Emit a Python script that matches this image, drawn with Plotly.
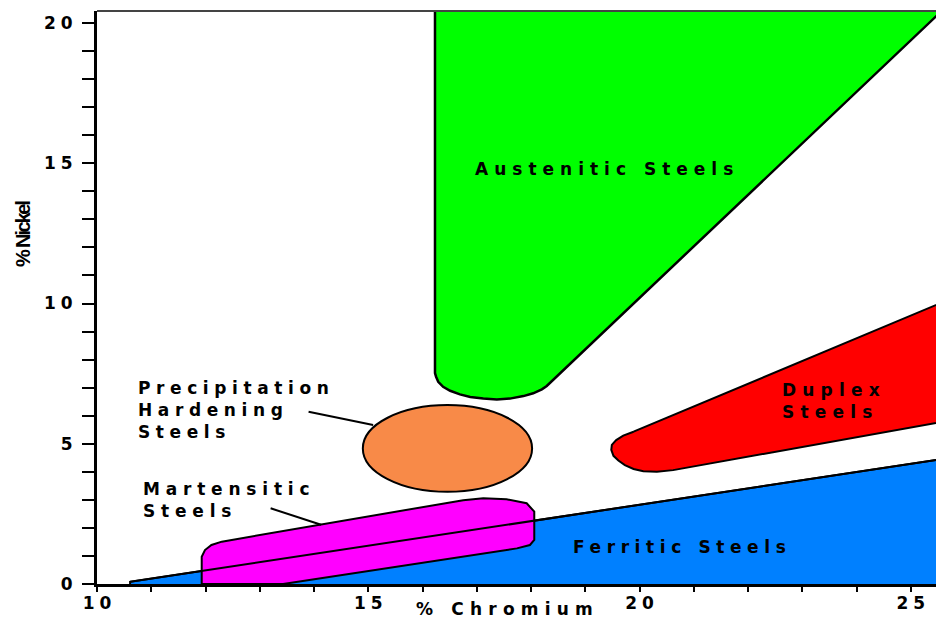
import plotly.graph_objects as go

# ---------------- data (% Cr on x, % Ni on y) ----------------
ferritic_cr = [10.61, 10.61, 26.0, 26.0]
ferritic_ni = [0.0, 0.08, 4.58, 0.0]
ferritic_edge_cr = [10.61, 26.0]
ferritic_edge_ni = [0.08, 4.58]

austenitic_cr = [16.23, 16.23, 16.25, 16.29, 16.38, 16.51, 16.69, 16.88, 17.12, 17.37,
                 17.61, 17.86, 18.04, 18.20, 18.29, 25.88]
austenitic_ni = [21.0, 7.52, 7.39, 7.21, 7.03, 6.89, 6.76, 6.67, 6.61, 6.58,
                 6.61, 6.70, 6.80, 6.94, 7.06, 21.0]

duplex_cr = [19.89, 19.70, 19.57, 19.49, 19.48, 19.52, 19.61, 19.73, 19.89, 20.07,
             20.32, 20.62, 26.0, 26.0, 19.89]
duplex_ni = [5.43, 5.29, 5.13, 4.96, 4.78, 4.57, 4.40, 4.24, 4.10, 4.02,
             4.00, 4.06, 5.93, 10.38, 5.43]

martensitic_cr = [11.93, 11.93, 11.99, 12.11, 12.30, 16.75, 17.12, 17.55, 17.92, 18.06,
                  18.06, 17.98, 17.74, 13.43, 11.93]
martensitic_ni = [0.0, 0.97, 1.21, 1.39, 1.51, 2.99, 3.06, 3.02, 2.88, 2.58,
                  1.57, 1.39, 1.27, 0.0, 0.0]

precip_cr_span = [14.90, 18.02]
precip_ni_span = [3.29, 6.38]

precip_leader_cr = [13.90, 15.09]
precip_leader_ni = [6.14, 5.67]
mart_leader_cr = [13.20, 14.13]
mart_leader_ni = [2.70, 2.11]

x_tick_vals = [10, 15, 20, 25]
x_tick_labels = ["10", "15", "20", "25"]
y_tick_vals = [0, 5, 10, 15, 20]
y_tick_labels = ["0", "5", "10", "15", "20"]
x_minor_vals = list(range(10, 26))
y_minor_vals = list(range(0, 21))

# label lines, anchor position (% Cr, % Ni), horizontal anchor, letter spacing
labels = [
    (["Austenitic Steels"], 19.35, 14.80, "center", 6.0),
    (["Duplex", "Steels"], 22.59, 6.51, "left", 6.2),
    (["Ferritic Steels"], 20.74, 1.32, "center", 5.6),
    (["Precipitation", "Hardening", "Steels"], 10.72, 6.22, "left", 5.6),
    (["Martensitic", "Steels"], 10.82, 3.00, "left", 5.8),
]

X_RANGE = [10, 25.465]
Y_RANGE = [0, 20.43]


def spaced(s, px):
    if len(s) < 2:
        return s
    return f'<span style="letter-spacing:{px}px">{s[:-1]}</span>{s[-1]}'


fig = go.Figure()

edge = dict(color="black", width=2)

fig.add_trace(go.Scatter(x=ferritic_cr, y=ferritic_ni, mode="lines", fill="toself",
                         fillcolor="#0080FF", line=edge, hoverinfo="skip"))
fig.add_trace(go.Scatter(x=martensitic_cr, y=martensitic_ni, mode="lines", fill="toself",
                         fillcolor="#FF00FF", line=edge, hoverinfo="skip"))
fig.add_trace(go.Scatter(x=ferritic_edge_cr, y=ferritic_edge_ni, mode="lines",
                         line=edge, hoverinfo="skip"))
fig.add_trace(go.Scatter(x=austenitic_cr, y=austenitic_ni, mode="lines", fill="toself",
                         fillcolor="#00FF00", line=dict(color="black", width=2.5),
                         hoverinfo="skip"))
fig.add_trace(go.Scatter(x=duplex_cr, y=duplex_ni, mode="lines", fill="toself",
                         fillcolor="#FF0000", line=edge, hoverinfo="skip"))
fig.add_trace(go.Scatter(x=precip_leader_cr, y=precip_leader_ni, mode="lines",
                         line=edge, hoverinfo="skip"))
fig.add_trace(go.Scatter(x=mart_leader_cr, y=mart_leader_ni, mode="lines",
                         line=edge, hoverinfo="skip"))

fig.add_shape(type="circle", xref="x", yref="y",
              x0=precip_cr_span[0], x1=precip_cr_span[1],
              y0=precip_ni_span[0], y1=precip_ni_span[1],
              fillcolor="#F88A48", line=dict(color="black", width=2))

# top frame line
fig.add_shape(type="line", xref="paper", yref="paper", x0=0, x1=1, y0=1, y1=1,
              line=dict(color="#444444", width=2))

lab_font = dict(family="DejaVu Sans", size=17, color="black", weight="bold")
for lines, xx, yy, al, sp in labels:
    fig.add_annotation(x=xx, y=yy, xref="x", yref="y",
                       text="<br>".join(spaced(t, sp) for t in lines),
                       showarrow=False, xanchor=al, yanchor="middle", align="left",
                       font=lab_font)

# axis titles
fig.add_annotation(x=17.52, y=-25 / 573, xref="x", yref="paper",
                   text=spaced("% Chromium", 6.2), showarrow=False,
                   xanchor="center", yanchor="middle", font=lab_font)
fig.add_annotation(x=-74 / 839, y=0.6108, xref="paper", yref="paper",
                   text=spaced("% Nickel", -2.2), textangle=-90, showarrow=False,
                   xanchor="center", yanchor="middle",
                   font=dict(family="Liberation Sans", size=20, color="black", weight="bold"))

tick_font = dict(family="DejaVu Sans", size=17, color="black", weight="bold")

fig.update_layout(
    width=936, height=620,
    margin=dict(l=97, r=0, t=11, b=36),
    paper_bgcolor="white", plot_bgcolor="white",
    showlegend=False,
    xaxis=dict(range=X_RANGE, showgrid=False, zeroline=False,
               showline=True, linecolor="black", linewidth=3,
               tickmode="array", tickvals=x_tick_vals,
               ticktext=[spaced(t, 5) for t in x_tick_labels],
               ticks="outside", ticklen=5, tickwidth=2, tickcolor="black",
               tickfont=tick_font, ticklabelstandoff=-3,
               minor=dict(tickmode="array", tickvals=x_minor_vals, ticks="outside",
                          ticklen=5, tickwidth=2, tickcolor="black", showgrid=False)),
    yaxis=dict(range=Y_RANGE, showgrid=False, zeroline=False,
               showline=True, linecolor="black", linewidth=3,
               tickmode="array", tickvals=y_tick_vals,
               ticktext=[spaced(t, 5) for t in y_tick_labels],
               ticks="outside", ticklen=12, tickwidth=2, tickcolor="black",
               tickfont=tick_font, ticklabelstandoff=6,
               minor=dict(tickmode="array", tickvals=y_minor_vals, ticks="outside",
                          ticklen=12, tickwidth=2, tickcolor="black", showgrid=False)),
)

fig.write_html("out.html",
               config={"displayModeBar": False},
               post_script="document.body.style.margin='0';"
                           "document.body.style.overflow='hidden';")
